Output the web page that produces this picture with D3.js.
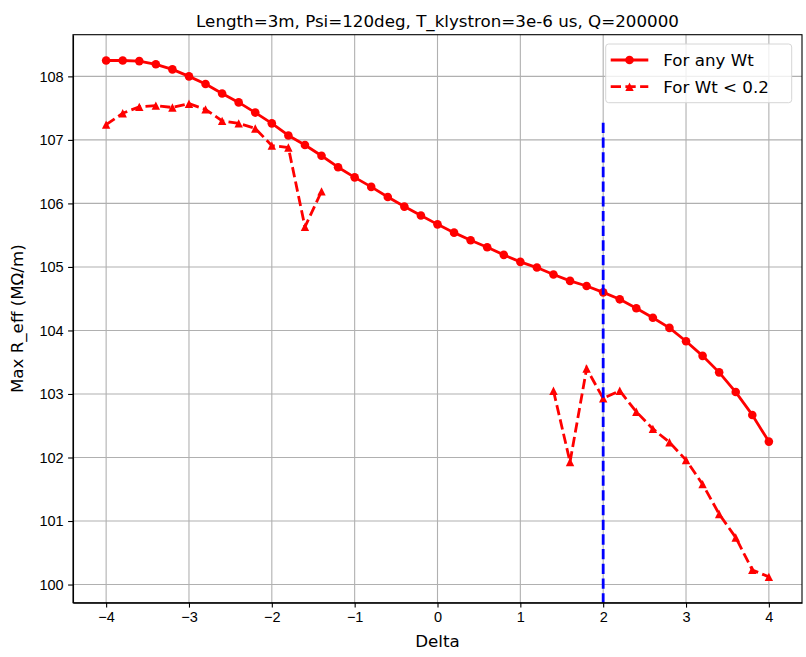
<!DOCTYPE html>
<html>
<head>
<meta charset="utf-8">
<script src="https://cdn.jsdelivr.net/npm/d3@7"></script>
<style>
  body { margin: 0; background: #fff; }
  svg { font-family: "DejaVu Sans", sans-serif; }
  .tick text { fill: #000; font-size: 14.5px; }
  .domain { stroke: #000; stroke-width: 1.1; }
</style>
</head>
<body>
<svg id="chart" width="806" height="657"></svg>
<script>
// 1: DATA
const delta = [-4, -3.8, -3.6, -3.4, -3.2, -3, -2.8, -2.6, -2.4, -2.2, -2, -1.8, -1.6, -1.4, -1.2, -1, -0.8, -0.6, -0.4, -0.2,
               0, 0.2, 0.4, 0.6, 0.8, 1, 1.2, 1.4, 1.6, 1.8, 2, 2.2, 2.4, 2.6, 2.8, 3, 3.2, 3.4, 3.6, 3.8, 4];

const rAnyWt = [108.25, 108.25, 108.24, 108.19, 108.11, 108.0, 107.88, 107.73, 107.59, 107.43, 107.26, 107.07, 106.92, 106.75,
                106.57, 106.41, 106.26, 106.10, 105.95, 105.81, 105.67, 105.54, 105.42, 105.31, 105.19, 105.08, 104.99,
                104.88, 104.78, 104.70, 104.60, 104.49, 104.35, 104.20, 104.04, 103.83, 103.60, 103.34, 103.03, 102.67, 102.25];

// null = no solution with Wt < 0.2
const rWtSmall = [107.24, 107.42, 107.52, 107.54, 107.51, 107.57, 107.48, 107.30, 107.26, 107.18, 106.91, 106.88, 105.63, 106.19,
                  null, null, null, null, null, null, null, null, null, null, null, null, null,
                  103.05, 101.93, 103.40, 102.93, 103.05, 102.72, 102.45, 102.24, 101.96, 101.58, 101.11, 100.74, 100.23, 100.12];

const markerDelta = 2;
const markerTop = 107.27;

const xTicks = [-4, -3, -2, -1, 0, 1, 2, 3, 4];
const yTicks = [100, 101, 102, 103, 104, 105, 106, 107, 108];

const titleText = "Length=3m, Psi=120deg, T_klystron=3e-6 us, Q=200000";
const legendLabels = ["For any Wt", "For Wt < 0.2"];

// 2: LAYOUT
const margin = { top: 34.7, right: 4, bottom: 54.3, left: 73 };
const width = 806 - margin.left - margin.right;
const height = 657 - margin.top - margin.bottom;

const svg = d3.select("#chart");
const g = svg.append("g").attr("transform", `translate(${margin.left},${margin.top})`);

// 3: SCALES (matplotlib-style 5% margins)
const x = d3.scaleLinear().domain([-4.4, 4.4]).range([0, width]);
const y = d3.scaleLinear().domain([99.714, 108.656]).range([height, 0]);

// grid
g.append("g").selectAll("line").data(xTicks).join("line")
    .attr("x1", d => x(d)).attr("x2", d => x(d))
    .attr("y1", 0).attr("y2", height)
    .attr("stroke", "#b0b0b0").attr("stroke-width", 1.1);
g.append("g").selectAll("line").data(yTicks).join("line")
    .attr("x1", 0).attr("x2", width)
    .attr("y1", d => y(d)).attr("y2", d => y(d))
    .attr("stroke", "#b0b0b0").attr("stroke-width", 1.1);

// 4: PLOT DATA
const red = "#ff0000";
const solidData = delta.map((d, i) => ({ x: d, y: rAnyWt[i] }));
const dashData = delta.map((d, i) => ({ x: d, y: rWtSmall[i] }));

const line = d3.line()
    .defined(d => d.y !== null)
    .x(d => x(d.x))
    .y(d => y(d.y));

g.append("path")
    .datum(solidData)
    .attr("fill", "none")
    .attr("stroke", red)
    .attr("stroke-width", 2.8)
    .attr("stroke-linejoin", "round")
    .attr("d", line);

g.append("g").selectAll("circle").data(solidData).join("circle")
    .attr("cx", d => x(d.x))
    .attr("cy", d => y(d.y))
    .attr("r", 4.3)
    .attr("fill", red);

g.append("path")
    .datum(dashData)
    .attr("fill", "none")
    .attr("stroke", red)
    .attr("stroke-width", 2.8)
    .attr("stroke-dasharray", "10.3,4.4")
    .attr("d", line);

const tri = r => `M0,${-r}L${-r},${r}L${r},${r}Z`;
g.append("g").selectAll("path").data(dashData.filter(d => d.y !== null)).join("path")
    .attr("transform", d => `translate(${x(d.x)},${y(d.y)})`)
    .attr("d", tri(4.2))
    .attr("fill", red);

// blue vertical marker
g.append("line")
    .attr("x1", x(markerDelta)).attr("x2", x(markerDelta))
    .attr("y1", y(markerTop)).attr("y2", height)
    .attr("stroke", "#0000ff")
    .attr("stroke-width", 2.8)
    .attr("stroke-dasharray", "10.3,4.4");

// 5: AXES
g.append("g")
    .attr("transform", `translate(0,${height})`)
    .call(d3.axisBottom(x).tickValues(xTicks).tickSize(4.9).tickSizeOuter(0).tickPadding(4.5).tickFormat(d3.format("d")))
    .call(a => a.selectAll(".tick line").attr("stroke", "#000").attr("stroke-width", 1.1));

g.append("g")
    .call(d3.axisLeft(y).tickValues(yTicks).tickSize(4.9).tickSizeOuter(0).tickPadding(4.5).tickFormat(d3.format("d")))
    .call(a => a.selectAll(".tick line").attr("stroke", "#000").attr("stroke-width", 1.1));

// top / right spines
g.append("rect")
    .attr("width", width).attr("height", height)
    .attr("fill", "none").attr("stroke", "#000").attr("stroke-width", 1.1);

// 6: LABELS
g.append("text")
    .attr("x", width / 2).attr("y", -8)
    .attr("text-anchor", "middle")
    .attr("font-size", 16.7)
    .text(titleText);

g.append("text")
    .attr("x", width / 2).attr("y", height + 44)
    .attr("text-anchor", "middle")
    .attr("font-size", 16.7)
    .text("Delta");

g.append("text")
    .attr("transform", "rotate(-90)")
    .attr("x", -height / 2).attr("y", -50)
    .attr("text-anchor", "middle")
    .attr("font-size", 16.7)
    .text("Max R_eff (MΩ/m)");

// legend
const legend = svg.append("g").attr("transform", "translate(605.7,44)");
legend.append("rect")
    .attr("width", 186).attr("height", 58.7)
    .attr("rx", 3)
    .attr("fill", "#fff").attr("fill-opacity", 0.8)
    .attr("stroke", "#d6d6d6").attr("stroke-width", 1);

legendLabels.forEach((label, i) => {
    const cy = 16 + i * 26.7;
    legend.append("line")
        .attr("x1", 5).attr("x2", 42.6)
        .attr("y1", cy).attr("y2", cy)
        .attr("stroke", red).attr("stroke-width", 2.8)
        .attr("stroke-dasharray", i === 0 ? null : "10.3,4.4");
    if (i === 0) {
        legend.append("circle").attr("cx", 23.8).attr("cy", cy).attr("r", 4.3).attr("fill", red);
    } else {
        legend.append("path").attr("transform", `translate(23.8,${cy})`).attr("d", tri(4.2)).attr("fill", red);
    }
    legend.append("text")
        .attr("x", 57.6).attr("y", cy + 6)
        .attr("font-size", 16.7)
        .text(label);
});
</script>
</body>
</html>
